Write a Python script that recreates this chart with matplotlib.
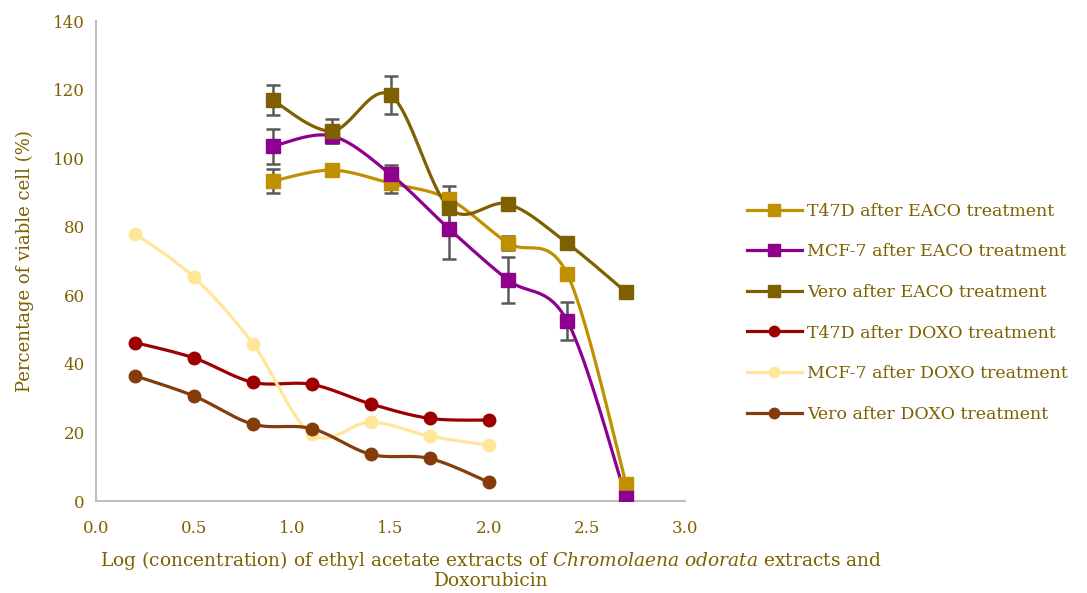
import numpy as np
import matplotlib
matplotlib.use("Agg")
import matplotlib.pyplot as plt
from matplotlib.lines import Line2D

plt.rcParams['font.family'] = ['DejaVu Serif']
plt.rcParams['mathtext.fontset'] = 'dejavuserif'

# ---- data ----
x_eaco = [0.9, 1.2, 1.5, 1.8, 2.1, 2.4, 2.7]
x_doxo = [0.2, 0.5, 0.8, 1.1, 1.4, 1.7, 2.0]

t47d_eaco = [93.3, 96.5, 92.7, 88.0, 75.2, 66.2, 5.0]
mcf7_eaco = [103.5, 106.5, 95.3, 79.3, 64.4, 52.5, 1.0]
vero_eaco = [116.9, 107.9, 118.4, 85.4, 86.6, 75.2, 60.9]

t47d_eaco_err = [3.6, 0.0, 2.9, 0.0, 2.0, 0.0, 0.0]
mcf7_eaco_err = [5.1, 2.0, 2.6, 8.7, 6.7, 5.5, 0.0]
vero_eaco_err = [4.4, 3.5, 5.5, 6.4, 1.5, 1.0, 0.0]

t47d_doxo = [46.2, 41.7, 34.6, 34.0, 28.3, 24.1, 23.6]
mcf7_doxo = [78.0, 65.2, 45.8, 19.4, 23.0, 18.9, 16.3]
vero_doxo = [36.5, 30.6, 22.4, 21.1, 13.6, 12.4, 5.5]

labels = ["T47D after EACO treatment", "MCF-7 after EACO treatment",
          "Vero after EACO treatment", "T47D after DOXO treatment",
          "MCF-7 after DOXO treatment", "Vero after DOXO treatment"]
colors = ["#BF9000", "#8E008E", "#7F6000", "#9C0000", "#FFE699", "#843C0C"]

yticks = [0, 20, 40, 60, 80, 100, 120, 140]
xticks = [0.0, 0.5, 1.0, 1.5, 2.0, 2.5, 3.0]

TXT = "#7F6000"


def smooth(xs, ys, n=30):
    xs = np.asarray(xs, float); ys = np.asarray(ys, float)
    P = np.column_stack([xs, ys])
    P = np.vstack([P[0], P, P[-1]])
    out = []
    t = np.linspace(0, 1, n)
    for i in range(1, len(P) - 2):
        p0, p1, p2, p3 = P[i-1], P[i], P[i+1], P[i+2]
        c1 = p1 + (p2 - p0) / 6.0
        c2 = p2 - (p3 - p1) / 6.0
        seg = ((1-t)**3)[:, None]*p1 + (3*(1-t)**2*t)[:, None]*c1 + \
              (3*(1-t)*t**2)[:, None]*c2 + (t**3)[:, None]*p2
        out.append(seg if i == 1 else seg[1:])
    S = np.vstack(out)
    return S[:, 0], S[:, 1]


fig = plt.figure(figsize=(10.87, 5.93), dpi=100)
ax = fig.add_axes([96/1087, 92/593, 589/1087, 480/593])

series = [
    (x_eaco, t47d_eaco, t47d_eaco_err, 's'),
    (x_eaco, mcf7_eaco, mcf7_eaco_err, 's'),
    (x_eaco, vero_eaco, vero_eaco_err, 's'),
    (x_doxo, t47d_doxo, None, 'o'),
    (x_doxo, mcf7_doxo, None, 'o'),
    (x_doxo, vero_doxo, None, 'o'),
]

handles = []
for idx in [3, 4, 5, 0, 1, 2]:
    xs, ys, err, mk = series[idx]
    sx, sy = smooth(xs, ys)
    ax.plot(sx, sy, color=colors[idx], lw=2.3, zorder=2 + idx*0.1, solid_capstyle='round')
    if err is not None:
        xe = [x for x, e in zip(xs, err) if e > 0]
        ye = [y for y, e in zip(ys, err) if e > 0]
        ee = [e for e in err if e > 0]
        ax.errorbar(xe, ye, yerr=ee, fmt='none', ecolor='#595959', elinewidth=1.8,
                    capsize=5, capthick=1.8, zorder=2.5 + idx*0.1)
    ax.plot(xs, ys, linestyle='none', marker=mk, ms=10 if mk == 's' else 9,
            color=colors[idx], mec=colors[idx], zorder=3 + idx*0.1)

for idx in range(6):
    mk = series[idx][3]
    handles.append(Line2D([], [], color=colors[idx], lw=2.3, marker=mk,
                          ms=8 if mk == 's' else 7.5))

ax.set_xlim(0, 3.0)
ax.set_ylim(0, 140)
ax.set_xticks(xticks)
ax.set_xticklabels([f"{v:.1f}" for v in xticks])
ax.set_yticks(yticks)
ax.tick_params(length=0, colors=TXT, labelsize=12)
ax.tick_params(axis='x', pad=14)
ax.tick_params(axis='y', pad=8)
for s in ['top', 'right']:
    ax.spines[s].set_visible(False)
for s in ['left', 'bottom']:
    ax.spines[s].set_color('#BFBFBF')
    ax.spines[s].set_linewidth(1.5)

ax.set_ylabel("Percentage of viable cell (%)", color=TXT, fontsize=13, labelpad=14)
fig.text(491/1087, 1 - 560/593,
         r"Log (concentration) of ethyl acetate extracts of $\mathit{Chromolaena\ odorata}$ extracts and",
         ha='center', va='center', color=TXT, fontsize=13.4)
fig.text(491/1087, 1 - 581/593, "Doxorubicin", ha='center', va='center',
         color=TXT, fontsize=13.4)

fig.legend(handles, labels, loc='upper left', bbox_to_anchor=(738/1087, 1 - 194/593),
           frameon=False, fontsize=12.5, labelcolor=TXT, handlelength=3.2,
           handletextpad=0.3, labelspacing=1.36, borderpad=0)

fig.savefig("out.png", dpi=100)
